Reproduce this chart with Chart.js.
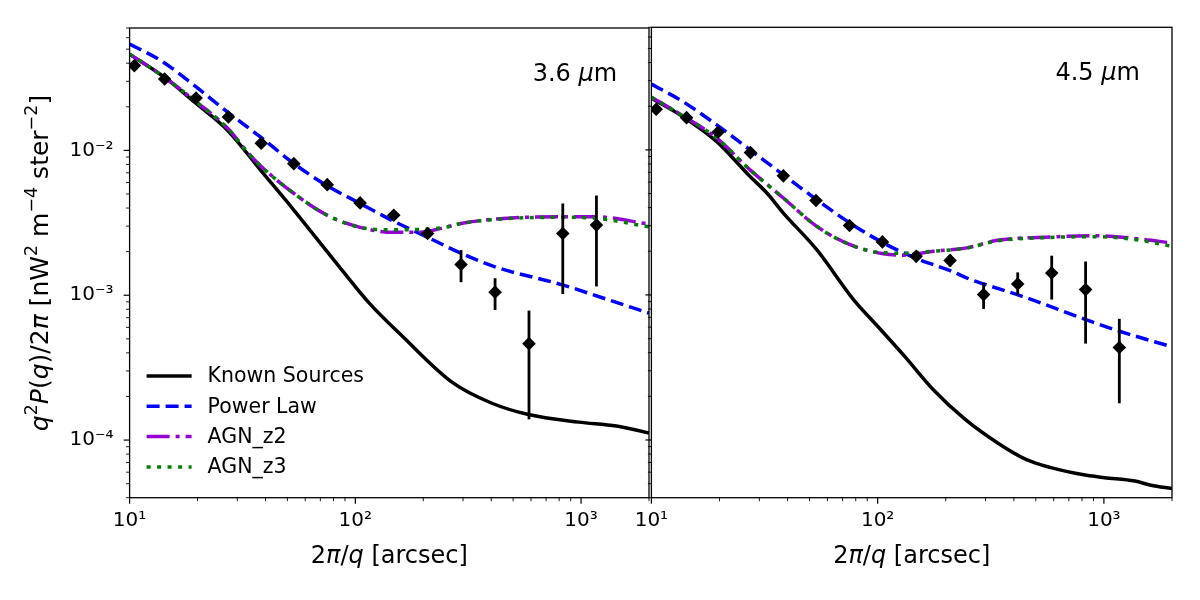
<!DOCTYPE html>
<html>
<head>
<meta charset="utf-8">
<script src="https://cdn.jsdelivr.net/npm/chart.js@4.4.1/dist/chart.umd.min.js"></script>
<style>
  body { margin: 0; background: #fff; }
  #wrap { position: relative; width: 1200px; height: 600px; background: #fff; }
  canvas { position: absolute; top: 0; }
</style>
</head>
<body>
<div id="wrap">
  <canvas id="left" width="660" height="600" style="left:0px"></canvas>
  <canvas id="right" width="600" height="600" style="left:600px"></canvas>
</div>
<script>
// ---- data ----
// measured points (same angular scales in both bands)
const ptX = [10.5, 14.3, 19.7, 27.4, 38.3, 53.4, 75.1, 105, 148, 209, 294, 416, 588, 830, 1170];

// 3.6 um
const ptY36 = [0.0385, 0.0311, 0.0230, 0.0170, 0.0112, 0.0081, 0.0058, 0.00434, 0.00357, 0.00267, 0.00163, 0.00105, 0.000463, 0.00267, 0.00305];
const errLo36 = [0.0370, 0.0299, 0.0221, 0.0163, 0.0108, 0.0078, 0.0056, 0.00418, 0.00340, 0.00250, 0.00123, 0.00079, 0.000139, 0.00102, 0.00115];
const errHi36 = [0.0400, 0.0323, 0.0239, 0.0177, 0.0116, 0.0084, 0.0060, 0.00450, 0.00374, 0.00284, 0.00205, 0.00131, 0.000783, 0.00430, 0.00488];
const knownX36 = [10, 14.3, 19.4, 27.2, 38.1, 53.5, 80.4, 115, 162, 271, 398, 585, 977, 1435, 2000];
const knownY36 = [0.0462, 0.0319, 0.0215, 0.01374, 0.00728, 0.00386, 0.00175, 0.000885, 0.000519, 0.000248, 0.000181, 0.000150, 0.000133, 0.000125, 0.000112];
const powX36 = [10, 13.8, 19.4, 27.2, 38.1, 53.5, 75, 105, 147.5, 207, 294, 416, 826, 1260, 2000];
const powY36 = [0.0542, 0.0416, 0.0280, 0.01835, 0.01234, 0.0081, 0.0057, 0.0043, 0.00325, 0.00253, 0.00195, 0.00157, 0.00118, 0.000953, 0.000752];
const agnX36 = [10, 14.3, 19.4, 27.2, 33.3, 38.1, 53.5, 75, 105, 147.5, 193.5, 249.5, 294, 453, 826, 1160, 2000];
const z2Y36 = [0.0462, 0.0319, 0.0221, 0.0142, 0.0097, 0.0078, 0.00504, 0.00357, 0.00294, 0.00272, 0.00272, 0.00294, 0.00313, 0.00339, 0.00348, 0.00348, 0.00310];
const z3Y36 = [0.0462, 0.0319, 0.0221, 0.0142, 0.0097, 0.0078, 0.00504, 0.00357, 0.00294, 0.00283, 0.00285, 0.00294, 0.00313, 0.00337, 0.00345, 0.00340, 0.00297];

// 4.5 um
const ptY45 = [0.01905, 0.01668, 0.01324, 0.00958, 0.00662, 0.00448, 0.00301, 0.00232, 0.001845, 0.00173, 0.001005, 0.00119, 0.001417, 0.001088, 0.000434];
const errLo45 = [0.0183, 0.0160, 0.0127, 0.0092, 0.00636, 0.00430, 0.00289, 0.00222, 0.00176, 0.00157, 0.000801, 0.000993, 0.000929, 0.000462, 0.000179];
const errHi45 = [0.0198, 0.0174, 0.0138, 0.0100, 0.00688, 0.00466, 0.00313, 0.00242, 0.00193, 0.00189, 0.00121, 0.00143, 0.001865, 0.00170, 0.000684];
const knownX45 = [10, 13.8, 19.45, 27.3, 32.4, 38.3, 53.8, 78.2, 100, 131.4, 175.8, 243.8, 337.8, 452.3, 583.4, 839, 1007, 1371, 1615, 2000];
const knownY45 = [0.0227, 0.01694, 0.0114, 0.00655, 0.00504, 0.00367, 0.00205, 0.000929, 0.000608, 0.000378, 0.000223, 0.0001386, 0.0000958, 0.0000735, 0.0000645, 0.0000571, 0.0000550, 0.0000521, 0.0000487, 0.0000462];
const powX45 = [10, 13.8, 19.45, 27.3, 38.3, 53.8, 75.5, 106.1, 148.9, 209.3, 256.4, 294.4, 435.5, 831, 1172, 2000];
const powY45 = [0.0284, 0.0215, 0.01486, 0.0100, 0.00673, 0.00453, 0.00313, 0.00228, 0.00178, 0.00147, 0.00128, 0.00119, 0.000978, 0.000676, 0.000562, 0.000439];
const agnX45 = [10, 13.8, 19.45, 27.3, 38.3, 53.8, 75.5, 106.1, 130, 176.5, 248, 338, 583, 935, 1449, 2000];
const z2Y45 = [0.0231, 0.01714, 0.01204, 0.00728, 0.00466, 0.00297, 0.00222, 0.00192, 0.00188, 0.00200, 0.00211, 0.00238, 0.00251, 0.00256, 0.00243, 0.00228];
const z3Y45 = [0.0231, 0.01714, 0.01204, 0.00728, 0.00466, 0.00297, 0.00222, 0.00195, 0.00194, 0.00200, 0.00211, 0.00236, 0.00249, 0.00252, 0.00238, 0.00216];

const xRange = [10, 2000];
const yRange = [4e-5, 0.07];
const seriesNames = ["Known Sources", "Power Law", "AGN_z2", "AGN_z3"];

const FONT = '"DejaVu Sans", "Liberation Sans", sans-serif';
Chart.defaults.font.family = FONT;
Chart.defaults.color = '#000';

// unicode superscripts for the 10^n tick labels
const sups = {'-': '\u207b', '0': '\u2070', '1': '\u00b9', '2': '\u00b2', '3': '\u00b3', '4': '\u2074', '5': '\u2075', '6': '\u2076', '7': '\u2077', '8': '\u2078', '9': '\u2079'};
function isPow10(v) {
    const e = Math.log10(v);
    return Math.abs(e - Math.round(e)) < 1e-6;
}
function powLabel(v) {
    if (!isPow10(v)) return '';
    return '10' + String(Math.round(Math.log10(v))).split('').map(c => sups[c]).join('');
}
// 1..9 x 10^n ticks like matplotlib's log locator
function logTicks(min, max) {
    const out = [];
    for (let e = Math.floor(Math.log10(min)); e <= Math.ceil(Math.log10(max)); e++) {
        for (let m = 1; m <= 9; m++) {
            const v = m * Math.pow(10, e);
            if (v >= min * 0.9999 && v <= max * 1.0001) out.push(v);
        }
    }
    return out;
}

// draws text made of pieces (italic / superscript) like matplotlib mathtext
function drawRich(ctx, segs, x, y, size, align) {
    const parts = segs.map(s => {
        const fs = s.sup ? size * 0.7 : size;
        const font = (s.it ? 'italic ' : '') + fs + 'px ' + FONT;
        ctx.font = font;
        return {t: s.t, font, w: ctx.measureText(s.t).width, dy: s.sup ? -size * 0.42 : 0};
    });
    const total = parts.reduce((a, p) => a + p.w, 0);
    let cx = align === 'center' ? x - total / 2 : (align === 'right' ? x - total : x);
    ctx.textAlign = 'left';
    ctx.textBaseline = 'alphabetic';
    ctx.fillStyle = '#000';
    for (const p of parts) {
        ctx.font = p.font;
        ctx.fillText(p.t, cx, y + p.dy);
        cx += p.w;
    }
}

const xTitle = [{t: '2'}, {t: '\u03c0', it: true}, {t: '/'}, {t: 'q', it: true}, {t: ' [arcsec]'}];
const yTitle = [{t: 'q', it: true}, {t: '2', sup: true}, {t: 'P', it: true}, {t: '('}, {t: 'q', it: true}, {t: ')/2'}, {t: '\u03c0', it: true},
    {t: ' [nW'}, {t: '2', sup: true}, {t: ' m'}, {t: '\u22124', sup: true}, {t: ' ster'}, {t: '\u22122', sup: true}, {t: ']'}];

// frame, tick marks, error bars, legend and labels
const panelDecor = {
    id: 'panelDecor',
    beforeDatasetDraw(chart, args) {
        const ds = chart.data.datasets[args.index];
        if (!ds.errLow) return;
        const ctx = chart.ctx, xs = chart.scales.x, ys = chart.scales.y;
        ctx.save();
        ctx.strokeStyle = '#000';
        ctx.lineWidth = 2.8;
        ds.data.forEach((p, i) => {
            const px = xs.getPixelForValue(p.x);
            ctx.beginPath();
            ctx.moveTo(px, ys.getPixelForValue(ds.errLow[i]));
            ctx.lineTo(px, ys.getPixelForValue(ds.errHigh[i]));
            ctx.stroke();
        });
        ctx.restore();
    },
    afterDraw(chart, args, opts) {
        const ctx = chart.ctx, a = chart.chartArea;
        const xs = chart.scales.x, ys = chart.scales.y;
        const w = a.right - a.left, h = a.bottom - a.top;
        ctx.save();
        // axes box
        ctx.strokeStyle = '#000';
        ctx.lineWidth = 1.3;
        ctx.strokeRect(a.left, a.top, w, h);
        // ticks pointing out
        for (const t of xs.ticks) {
            const p = xs.getPixelForValue(t.value);
            const major = isPow10(t.value);
            ctx.lineWidth = major ? 1.2 : 0.9;
            ctx.beginPath();
            ctx.moveTo(p, a.bottom);
            ctx.lineTo(p, a.bottom + (major ? 6 : 3.5));
            ctx.stroke();
        }
        for (const t of ys.ticks) {
            const p = ys.getPixelForValue(t.value);
            const major = isPow10(t.value);
            ctx.lineWidth = major ? 1.2 : 0.9;
            ctx.beginPath();
            ctx.moveTo(a.left, p);
            ctx.lineTo(a.left - (major ? 6 : 3.5), p);
            ctx.stroke();
        }
        // band label
        drawRich(ctx, [{t: opts.band + ' '}, {t: '\u03bc', it: true}, {t: 'm'}], a.left + 0.776 * w, a.bottom - 0.888 * h, 24, 'left');
        // x title
        drawRich(ctx, xTitle, (a.left + a.right) / 2, 563, 24, 'center');
        if (opts.yTitle) {
            ctx.save();
            ctx.translate(47.5, 263);
            ctx.rotate(-Math.PI / 2);
            drawRich(ctx, yTitle, 0, 0, 25, 'center');
            ctx.restore();
        }
        if (opts.legend) {
            const rows = chart.data.datasets.filter(d => !d.errLow);
            rows.forEach((d, i) => {
                const yy = 376 + i * 30.3;
                ctx.strokeStyle = d.borderColor;
                ctx.lineWidth = d.borderWidth;
                ctx.setLineDash(d.borderDash || []);
                ctx.beginPath();
                ctx.moveTo(a.left + 17, yy);
                ctx.lineTo(a.left + 62, yy);
                ctx.stroke();
                ctx.setLineDash([]);
                ctx.fillStyle = '#000';
                ctx.font = '20.5px ' + FONT;
                ctx.textAlign = 'left';
                ctx.textBaseline = 'middle';
                ctx.fillText(d.label, a.left + 78, yy + 1);
            });
        }
        ctx.restore();
    }
};

function curve(label, xs, ys, color, dash, order) {
    return {
        label: label,
        data: xs.map((x, i) => ({x: x, y: ys[i]})),
        borderColor: color,
        borderWidth: 3.5,
        borderDash: dash,
        borderCapStyle: 'butt',
        pointRadius: 0,
        fill: false,
        cubicInterpolationMode: 'monotone',
        clip: 0,
        order: order
    };
}

function makePanel(id, p) {
    const datasets = [
        curve(seriesNames[0], p.knownX, p.knownY, '#000000', [], 4),
        curve(seriesNames[1], p.powX, p.powY, '#0000ff', [13, 6], 3),
        curve(seriesNames[2], p.agnX, p.z2Y, '#9400d3', [23, 6, 4, 6], 2),
        curve(seriesNames[3], p.agnX, p.z3Y, '#008000', [4, 6.5], 1),
        {
            label: 'data',
            data: ptX.map((x, i) => ({x: x, y: p.ptY[i]})),
            errLow: p.errLo,
            errHigh: p.errHi,
            showLine: false,
            pointStyle: 'rectRot',
            pointRadius: 6.8,
            pointBackgroundColor: '#000',
            pointBorderColor: '#000',
            pointBorderWidth: 0,
            order: 0
        }
    ];
    return new Chart(document.getElementById(id), {
        type: 'line',
        data: {datasets: datasets},
        plugins: [panelDecor],
        options: {
            responsive: false,
            animation: false,
            layout: {padding: {top: 27.3, left: 0, right: p.padRight, bottom: 0}},
            plugins: {
                legend: {display: false},
                tooltip: {enabled: false},
                panelDecor: {band: p.band, legend: p.legend, yTitle: p.yTitle}
            },
            scales: {
                x: {
                    type: 'logarithmic',
                    min: xRange[0],
                    max: xRange[1],
                    afterBuildTicks: s => { s.ticks = logTicks(xRange[0], xRange[1]).map(v => ({value: v})); },
                    afterFit: s => { s.height = 102.3; },
                    grid: {display: false, drawTicks: false},
                    border: {display: false},
                    ticks: {autoSkip: false, maxRotation: 0, padding: 11, font: {size: 20}, callback: v => powLabel(v)}
                },
                y: {
                    type: 'logarithmic',
                    min: yRange[0],
                    max: yRange[1],
                    afterBuildTicks: s => { s.ticks = logTicks(yRange[0], yRange[1]).map(v => ({value: v})); },
                    afterFit: s => { s.width = p.yWidth; },
                    grid: {display: false, drawTicks: false},
                    border: {display: false},
                    ticks: {display: p.yLabels, autoSkip: false, padding: 16, font: {size: 20}, callback: v => powLabel(v)}
                }
            }
        }
    });
}

makePanel('left', {
    knownX: knownX36, knownY: knownY36, powX: powX36, powY: powY36,
    agnX: agnX36, z2Y: z2Y36, z3Y: z3Y36, ptY: ptY36, errLo: errLo36, errHi: errHi36,
    band: '3.6', legend: true, yTitle: true, yLabels: true, yWidth: 129.6, padRight: 9
});
makePanel('right', {
    knownX: knownX45, knownY: knownY45, powX: powX45, powY: powY45,
    agnX: agnX45, z2Y: z2Y45, z3Y: z3Y45, ptY: ptY45, errLo: errLo45, errHi: errHi45,
    band: '4.5', legend: false, yTitle: false, yLabels: false, yWidth: 51.4, padRight: 28
});
</script>
</body>
</html>
